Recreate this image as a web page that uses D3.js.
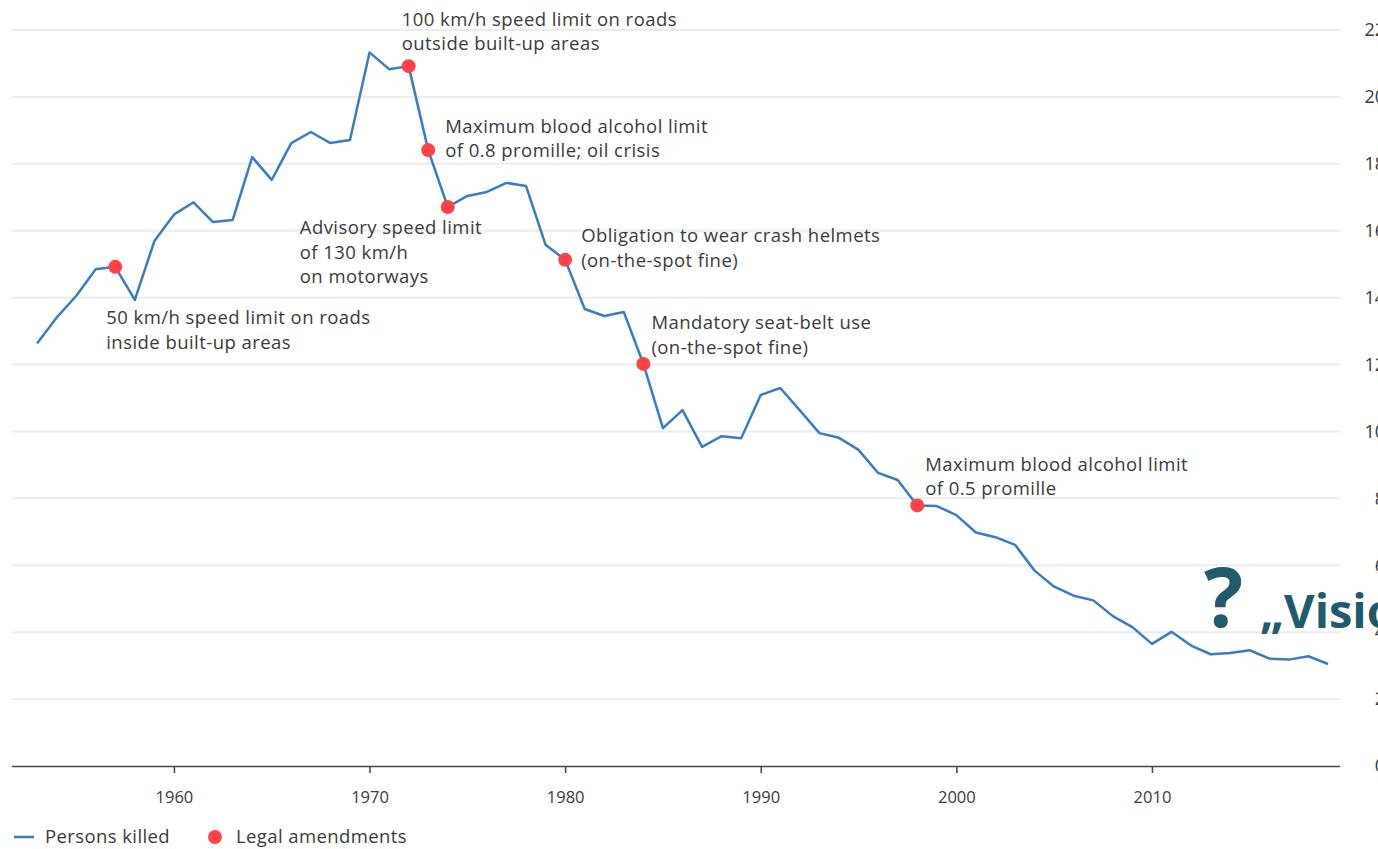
<!DOCTYPE html>
<html>
<head>
<meta charset="utf-8">
<script src="https://cdn.jsdelivr.net/npm/d3@7"></script>
<style>
  html, body { margin: 0; padding: 0; background: #fff; overflow: hidden; }
  svg { display: block; font-family: "Open Sans", "Noto Sans", sans-serif; }
</style>
</head>
<body>
<svg id="chart" width="1378" height="849"></svg>
<script>
const years = d3.range(1953, 2020);
const killed = [
  12630, 13400, 14050, 14850, 14920, 13930, 15690, 16480, 16850, 16260,
  16320, 18200, 17520, 18620, 18950, 18620, 18710, 21330, 20830, 20920,
  18410, 16710, 17040, 17160, 17430, 17340, 15580, 15130, 13660, 13450,
  13570, 12020, 10100, 10640, 9540, 9860, 9800, 11090, 11300, 10630,
  9950, 9810, 9450, 8760, 8550, 7790, 7770, 7500, 6980, 6840,
  6610, 5840, 5360, 5090, 4950, 4480, 4150, 3650, 4010, 3600,
  3340, 3380, 3460, 3210, 3180, 3280, 3050
];
const amendYears = [1957, 1972, 1973, 1974, 1980, 1984, 1998];
const amendLabels = [
  ["50 km/h speed limit on roads", "inside built-up areas"],
  ["100 km/h speed limit on roads", "outside built-up areas"],
  ["Maximum blood alcohol limit", "of 0.8 promille; oil crisis"],
  ["Advisory speed limit", "of 130 km/h", "on motorways"],
  ["Obligation to wear crash helmets", "(on-the-spot fine)"],
  ["Mandatory seat-belt use", "(on-the-spot fine)"],
  ["Maximum blood alcohol limit", "of 0.5 promille"]
];
// label offset from its dot: [dx, dy of first line]
const amendOffsets = [[-9, 51], [-7, -47], [17, -24], [-148, 21], [16, -24], [8, -41], [8, -41]];
const yTicks = d3.range(0, 22001, 2000);
const xTicks = [1960, 1970, 1980, 1990, 2000, 2010];

const lineColor = "#3b7bbf";
const dotColor = "#ff4248";
const textColor = "#3a3a3a";

const svg = d3.select("#chart");

const x = d3.scaleLinear().domain([1953, 2019]).range([37, 1328]);
const y = d3.scaleLinear().domain([0, 22000]).range([766, 30]);
const left = 12, right = 1340;

// gridlines
svg.append("g")
  .selectAll("line")
  .data(yTicks.filter((d) => d > 0))
  .join("line")
  .attr("x1", left)
  .attr("x2", right)
  .attr("y1", (d) => y(d))
  .attr("y2", (d) => y(d))
  .attr("stroke", "#ececec")
  .attr("stroke-width", 2);

// right-hand value labels, in thousands (cut off by the frame)
svg.append("g")
  .selectAll("text")
  .data(yTicks)
  .join("text")
  .attr("x", 1385)
  .attr("y", (d) => y(d))
  .attr("dy", "0.35em")
  .attr("text-anchor", "end")
  .attr("font-size", 18)
  .attr("fill", textColor)
  .text((d) => d / 1000);

// x axis
const xAxis = svg.append("g")
  .attr("transform", `translate(0,${y(0)})`)
  .call(d3.axisBottom(x).tickValues(xTicks).tickFormat(d3.format("d")).tickSize(7).tickPadding(18).tickSizeOuter(0));
xAxis.select(".domain").attr("d", `M${left},0.5H${right}`).attr("stroke", "#444").attr("stroke-width", 1.5);
xAxis.selectAll(".tick line").attr("stroke", "#444").attr("stroke-width", 1.5);
xAxis.selectAll(".tick text")
  .attr("font-family", "'Open Sans', sans-serif")
  .attr("font-size", 16.5)
  .attr("fill", textColor);

// line
const line = d3.line()
  .x((d, i) => x(years[i]))
  .y((d) => y(d));

svg.append("path")
  .datum(killed)
  .attr("fill", "none")
  .attr("stroke", lineColor)
  .attr("stroke-width", 2.5)
  .attr("stroke-linejoin", "round")
  .attr("d", line);

// amendment dots
const killedAt = (yr) => killed[years.indexOf(yr)];

svg.append("g")
  .selectAll("circle")
  .data(amendYears)
  .join("circle")
  .attr("cx", (d) => x(d))
  .attr("cy", (d) => y(killedAt(d)))
  .attr("r", 7)
  .attr("fill", dotColor);

// annotation texts
amendYears.forEach((yr, i) => {
  const [dx, dy] = amendOffsets[i];
  const t = svg.append("text")
    .attr("x", x(yr) + dx)
    .attr("y", y(killedAt(yr)) + dy)
    .attr("font-size", 18.5)
    .attr("letter-spacing", 0.45)
    .attr("fill", textColor);
  amendLabels[i].forEach((s, j) => {
    t.append("tspan")
      .attr("x", x(yr) + dx)
      .attr("dy", j === 0 ? "0.35em" : 24.5)
      .text(s);
  });
});

// "? Vision Zero" overlay
svg.append("text")
  .attr("x", 1204)
  .attr("y", 627)
  .attr("font-size", 82)
  .attr("font-weight", 700)
  .attr("fill", "#215a6a")
  .text("?");
svg.append("text")
  .attr("x", 1260)
  .attr("y", 628)
  .attr("font-size", 47)
  .attr("font-weight", 700)
  .attr("fill", "#215a6a")
  .text("„Vision Zero“");

// legend
const legend = svg.append("g").attr("transform", "translate(0,837)");
legend.append("line")
  .attr("x1", 14).attr("x2", 34)
  .attr("stroke", lineColor).attr("stroke-width", 2.5);
legend.append("text")
  .attr("x", 45).attr("dy", "0.35em")
  .attr("font-size", 18.5).attr("letter-spacing", 0.4).attr("fill", textColor)
  .text("Persons killed");
legend.append("circle")
  .attr("cx", 215).attr("r", 7).attr("fill", dotColor);
legend.append("text")
  .attr("x", 236).attr("dy", "0.35em")
  .attr("font-size", 18.5).attr("letter-spacing", 0.4).attr("fill", textColor)
  .text("Legal amendments");
</script>
</body>
</html>
